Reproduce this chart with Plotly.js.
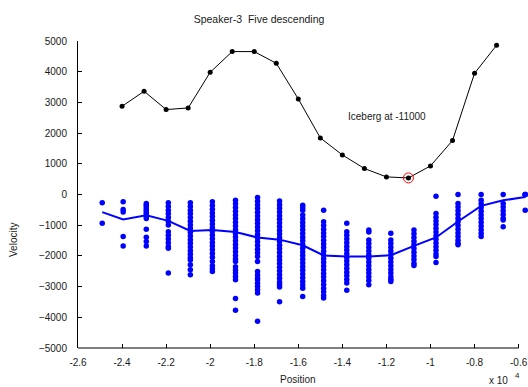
<!DOCTYPE html>
<html>
<head>
<meta charset="utf-8">
<script src="https://cdn.plot.ly/plotly-3.0.1.min.js"></script>
<style>html,body{margin:0;padding:0;background:#fff;}#chart{width:528px;height:387px;}</style>
</head>
<body>
<div id="chart"></div>
<script>
// Black curve (speaker trajectory)
const lineX = [-24000,-23000,-22000,-21000,-20000,-19000,-18000,-17000,-16000,-15000,-14000,-13000,-12000,-11000,-10000,-9000,-8000,-7000];
const lineY = [2874,3363,2767,2819,3981,4655,4655,4274,3112,1842,1289,846,573,540,931,1758,3948,4860];

// Iceberg marker
const icebergX = [-11000];
const icebergY = [540];

// Blue scatter columns (x position of each column)
const colX = [-24900,-23950,-22900,-21900,-20900,-19900,-18850,-17850,-16850,-15800,-14850,-13800,-12800,-11800,-10750,-9750,-8750,-7700,-6700,-5700];

const c25 = [-270,-940];
const c24 = [-240,-490,-570,-1370,-1680];
const c23 = [-290,-350,-410,-470,-530,-590,-650,-710,-780,-1135,-1395,-1535,-1675];
const c22 = [-270,-390,-510,-630,-750,-870,-995,-1210,-1330,-1450,-1570,-1690,-1750,-2560];
const c21 = [-270,-390,-510,-630,-750,-870,-990,-1110,-1230,-1350,-1470,-1590,-1710,-1830,-1950,-2060,-2130,-2290,-2450,-2615];
const c20 = [-240,-360,-480,-600,-720,-840,-960,-1080,-1200,-1320,-1440,-1560,-1680,-1800,-1920,-2040,-2180,-2320,-2420,-2510];
const c19 = [-185,-305,-425,-545,-665,-785,-905,-1025,-1145,-1265,-1385,-1505,-1625,-1745,-1865,-1985,-2105,-2180,-2350,-2460,-2560,-2670,-2780,-3390,-3770];
const c18 = [-100,-220,-340,-460,-580,-700,-820,-940,-1060,-1180,-1300,-1420,-1540,-1660,-1780,-1900,-2020,-2180,-2510,-2620,-2720,-2780,-2890,-3000,-3100,-3210,-4130];
const c17 = [-210,-330,-450,-570,-690,-810,-930,-1050,-1170,-1290,-1410,-1530,-1650,-1770,-1890,-2010,-2130,-2250,-2370,-2490,-2610,-2730,-2850,-2930,-3015,-3490];
const c16 = [-350,-430,-510,-670,-790,-910,-1030,-1150,-1270,-1390,-1510,-1630,-1750,-1870,-1990,-2110,-2230,-2350,-2470,-2590,-2710,-2830,-2950,-3050,-3320];
const c15 = [-510,-890,-1010,-1130,-1250,-1370,-1490,-1610,-1730,-1850,-1970,-2090,-2210,-2330,-2450,-2570,-2690,-2810,-2930,-3050,-3170,-3290,-3370];
const c14 = [-940,-1210,-1330,-1450,-1570,-1690,-1810,-1930,-2050,-2170,-2290,-2410,-2530,-2650,-2770,-2885,-3120];
const c13 = [-1160,-1220,-1480,-1600,-1720,-1840,-1960,-2080,-2200,-2320,-2440,-2560,-2680,-2800,-2940];
const c12 = [-1265,-1480,-1600,-1720,-1840,-1960,-2080,-2200,-2320,-2440,-2560,-2680,-2760,-2830];
const c11 = [-1160,-1280,-1400,-1520,-1640,-1760,-1880,-2000,-2120,-2240,-2310];
const c10 = [-55,-620,-740,-860,-980,-1100,-1220,-1340,-1460,-1580,-1700,-1820,-1940,-2020,-2215];
const c9  = [0,-290,-410,-530,-650,-770,-890,-1010,-1130,-1250,-1370,-1490,-1590,-1640];
const c8  = [0,-185,-305,-425,-545,-665,-785,-905,-1025,-1145,-1265,-1370];
const c7  = [0,-290,-410,-530,-650,-770,-830,-1050];
const c6  = [0,0,0,-510];

// Mean blue line at each column
const meanY = [-575,-810,-680,-860,-1185,-1160,-1225,-1400,-1470,-1655,-1985,-2020,-2020,-1980,-1675,-1400,-880,-370,-190,-85];

// Axis tick labels
const xTickVals = [-26000,-24000,-22000,-20000,-18000,-16000,-14000,-12000,-10000,-8000,-6000];
const xTickText = ["-2.6","-2.4","-2.2","-2","-1.8","-1.6","-1.4","-1.2","-1","-0.8","-0.6"];
const yTickVals = [5000,4000,3000,2000,1000,0,-1000,-2000,-3000,-4000,-5000];

const columns = [c25,c24,c23,c22,c21,c20,c19,c18,c17,c16,c15,c14,c13,c12,c11,c10,c9,c8,c7,c6];
const scatX = [], scatY = [];
columns.forEach((col, i) => { col.forEach(v => { scatX.push(colX[i]); scatY.push(v); }); });

const FONT = "Liberation Sans, Arial, Helvetica, sans-serif";

const traces = [
  { x: scatX, y: scatY, type: 'scatter', mode: 'markers',
    marker: { color: '#0000ff', size: 5.5, line: { width: 0 } }, hoverinfo: 'skip', cliponaxis: false },
  { x: colX, y: meanY, type: 'scatter', mode: 'lines',
    line: { color: '#0000ff', width: 2 }, hoverinfo: 'skip' },
  { x: lineX, y: lineY, type: 'scatter', mode: 'lines+markers',
    line: { color: '#000000', width: 1 }, marker: { color: '#000000', size: 5 }, hoverinfo: 'skip' },
  { x: icebergX, y: icebergY, type: 'scatter', mode: 'markers',
    marker: { symbol: 'circle-open', color: '#ff0000', size: 10, line: { width: 1, color: '#ff0000' } }, hoverinfo: 'skip' }
];

const layout = {
  width: 528, height: 387,
  margin: { l: 78, r: 0, t: 41, b: 39, pad: 0 },
  paper_bgcolor: '#ffffff', plot_bgcolor: '#ffffff',
  showlegend: false,
  font: { family: FONT, size: 10, color: '#1a1a1a' },
  title: { text: 'Speaker-3  Five descending', x: 259/528, y: 1 - 19/387, xanchor: 'center', yanchor: 'middle',
           font: { family: FONT, size: 10.5, color: '#1a1a1a' } },
  xaxis: {
    range: [-26000, -26000 + 450/22.03*1000],
    tickvals: xTickVals, ticktext: xTickText,
    ticks: 'inside', ticklen: 4, tickwidth: 1, tickcolor: '#000',
    showline: false, showgrid: false, zeroline: false,
    ticklabelstandoff: 7,
    tickfont: { family: FONT, size: 10, color: '#1a1a1a' }
  },
  yaxis: {
    range: [-5000, 5000],
    tickvals: yTickVals,
    ticks: 'inside', ticklen: 4, tickwidth: 1, tickcolor: '#000',
    showline: true, linecolor: '#000', linewidth: 1, mirror: false,
    showgrid: false, zeroline: false,
    ticklabelstandoff: 8,
    tickfont: { family: FONT, size: 10, color: '#1a1a1a' }
  },
  shapes: [
    { type: 'line', xref: 'x', yref: 'paper', x0: -26000, x1: -6000, y0: 0, y1: 0,
      line: { color: '#000', width: 1 } }
  ],
  annotations: [
    { text: 'Iceberg at -11000', xref: 'x', yref: 'y', x: -13850, y: 2550, xanchor: 'left', yanchor: 'middle',
      showarrow: false, font: { family: FONT, size: 10, color: '#1a1a1a' } },
    { text: 'Position', xref: 'paper', yref: 'paper', x: (298-78)/450, y: (348-379)/307, xanchor: 'center', yanchor: 'middle',
      showarrow: false, font: { family: FONT, size: 10, color: '#1a1a1a' } },
    { text: 'Velocity', xref: 'paper', yref: 'paper', x: (13-78)/450, y: (348-240)/307, xanchor: 'center', yanchor: 'middle',
      textangle: -90, showarrow: false, font: { family: FONT, size: 10, color: '#1a1a1a' } },
    { text: 'x 10', xref: 'paper', yref: 'paper', x: (488-78)/450, y: (348-387)/307, xanchor: 'left', yanchor: 'bottom',
      borderpad: 0, showarrow: false, font: { family: FONT, size: 10, color: '#1a1a1a' } },
    { text: '4', xref: 'paper', yref: 'paper', x: (513-78)/450, y: (348-375)/307, xanchor: 'left', yanchor: 'middle',
      showarrow: false, font: { family: FONT, size: 8, color: '#1a1a1a' } }
  ]
};

Plotly.newPlot('chart', traces, layout, { staticPlot: true, displayModeBar: false });
</script>
</body>
</html>
